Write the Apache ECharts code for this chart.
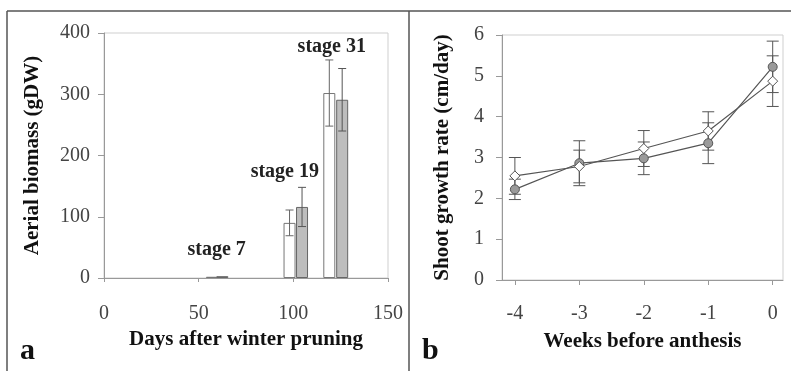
<!DOCTYPE html>
<html>
<head>
<meta charset="utf-8">
<script src="https://cdn.jsdelivr.net/npm/echarts@6/dist/echarts.min.js"></script>
<style>
html,body{margin:0;padding:0;background:#fff;}
#c{width:791px;height:371px;}
</style>
</head>
<body>
<div id="c"></div>
<script>
// Panel a: aerial biomass (bars)
var whiteDays = [57, 98, 119];
var whiteBiomass = [2, 90, 302];
var whiteBiomassErr = [0, 21, 54];
var grayDays = [62.5, 104.6, 125.8];
var grayBiomass = [3, 116, 291];
var grayBiomassErr = [0, 32, 51];
var stageNames = ['stage 7', 'stage 19', 'stage 31'];
var stageLabelX = [59.5, 95.5, 120.3];
var stageLabelY = [46, 173, 378];

// Panel b: shoot growth rate (lines)
var weeks = [-4, -3, -2, -1, 0];
var whiteRate = [2.55, 2.78, 3.22, 3.65, 4.87];
var whiteRateErr = [0.45, 0.4, 0.44, 0.47, 0.62];
var grayRate = [2.22, 2.86, 2.98, 3.35, 5.22];
var grayRateErr = [0.25, 0.55, 0.4, 0.5, 0.63];
var weekTicks = [-4, -3, -2, -1, 0];

var serif = '"Liberation Serif", "Times New Roman", serif';
var chart = echarts.init(document.getElementById('c'));

function zip2(a, b) { return a.map(function (v, i) { return [v, b[i]]; }); }
function zip3(a, b, c) { return a.map(function (v, i) { return [v, b[i], c[i]]; }); }

function errRender(half, color) {
  return function (params, api) {
    var x = api.value(0), y = api.value(1), e = api.value(2);
    if (!e) return;
    var top = api.coord([x, y + e]);
    var bot = api.coord([x, y - e]);
    var st = { stroke: color, lineWidth: 1 };
    return {
      type: 'group',
      children: [
        { type: 'line', shape: { x1: top[0], y1: top[1], x2: bot[0], y2: bot[1] }, style: st },
        { type: 'line', shape: { x1: top[0] - half, y1: top[1], x2: top[0] + half, y2: top[1] }, style: st },
        { type: 'line', shape: { x1: bot[0] - half, y1: bot[1], x2: bot[0] + half, y2: bot[1] }, style: st }
      ]
    };
  };
}

var tickLabel = { color: '#444', fontFamily: serif, fontSize: 20 };
var axisTitle = { color: '#111', fontFamily: serif, fontSize: 21, fontWeight: 'bold' };
var axisLineStyle = { lineStyle: { color: '#999', width: 1 } };

var option = {
  animation: false,
  backgroundColor: '#fff',
  grid: [
    { left: 104, top: 33, width: 284, height: 245, show: true, borderColor: '#cfcfcf', borderWidth: 1 },
    { left: 502, top: 35, width: 281, height: 245, show: true, borderColor: '#cfcfcf', borderWidth: 1 }
  ],
  xAxis: [
    {
      gridIndex: 0, type: 'value', min: 0, max: 150, interval: 50,
      name: 'Days after winter pruning', nameLocation: 'middle', nameGap: 48,
      nameTextStyle: axisTitle,
      axisLine: axisLineStyle,
      axisTick: { show: true, length: 4, lineStyle: { color: '#999' } },
      axisLabel: Object.assign({ margin: 26 }, tickLabel),
      splitLine: { show: false }
    },
    {
      gridIndex: 1, type: 'value', min: -4.2, max: 0.16,
      name: 'Weeks before anthesis', nameLocation: 'middle', nameGap: 51,
      nameTextStyle: axisTitle,
      axisLine: axisLineStyle,
      axisTick: { show: true, length: 5, lineStyle: { color: '#999' }, customValues: weekTicks },
      axisLabel: Object.assign({ margin: 24, customValues: weekTicks }, tickLabel),
      splitLine: { show: false }
    }
  ],
  yAxis: [
    {
      gridIndex: 0, type: 'value', min: 0, max: 400, interval: 100,
      name: 'Aerial biomass (gDW)', nameLocation: 'middle', nameGap: 61,
      nameTextStyle: axisTitle,
      axisLine: { show: true, onZero: false, lineStyle: { color: '#999', width: 1 } },
      axisTick: { show: true, length: 6, lineStyle: { color: '#999' } },
      axisLabel: Object.assign({ margin: 14 }, tickLabel),
      splitLine: { show: false }
    },
    {
      gridIndex: 1, type: 'value', min: 0, max: 6, interval: 1,
      name: 'Shoot growth rate (cm/day)', nameLocation: 'middle', nameGap: 49,
      nameTextStyle: axisTitle,
      axisLine: { show: true, onZero: false, lineStyle: { color: '#999', width: 1 } },
      axisTick: { show: true, length: 6, lineStyle: { color: '#999' } },
      axisLabel: Object.assign({ margin: 18 }, tickLabel),
      splitLine: { show: false }
    }
  ],
  series: [
    {
      type: 'bar', xAxisIndex: 0, yAxisIndex: 0, barWidth: 12, barGap: '-100%',
      data: zip2(whiteDays, whiteBiomass),
      itemStyle: { color: '#ffffff', borderColor: '#777', borderWidth: 1 },
      z: 2
    },
    {
      type: 'bar', xAxisIndex: 0, yAxisIndex: 0, barWidth: 12, barGap: '-100%',
      data: zip2(grayDays, grayBiomass),
      itemStyle: { color: '#bdbdbd', borderColor: '#666', borderWidth: 1 },
      z: 2
    },
    {
      type: 'custom', xAxisIndex: 0, yAxisIndex: 0, z: 5,
      data: zip3(whiteDays, whiteBiomass, whiteBiomassErr),
      renderItem: errRender(4, '#666')
    },
    {
      type: 'custom', xAxisIndex: 0, yAxisIndex: 0, z: 5,
      data: zip3(grayDays, grayBiomass, grayBiomassErr),
      renderItem: errRender(4, '#555')
    },
    {
      type: 'custom', xAxisIndex: 0, yAxisIndex: 0, z: 6,
      data: stageLabelX.map(function (x, i) { return [x, stageLabelY[i], stageNames[i]]; }),
      renderItem: function (params, api) {
        var p = api.coord([api.value(0), api.value(1)]);
        return {
          type: 'text',
          style: {
            x: p[0], y: p[1], text: stageNames[params.dataIndex],
            align: 'center', verticalAlign: 'middle',
            fill: '#222', font: 'bold 20px ' + serif
          }
        };
      }
    },
    {
      type: 'custom', xAxisIndex: 1, yAxisIndex: 1, z: 3,
      data: zip3(weeks, whiteRate, whiteRateErr),
      renderItem: errRender(6, '#555')
    },
    {
      type: 'custom', xAxisIndex: 1, yAxisIndex: 1, z: 3,
      data: zip3(weeks, grayRate, grayRateErr),
      renderItem: errRender(6, '#555')
    },
    {
      type: 'line', xAxisIndex: 1, yAxisIndex: 1, z: 4,
      data: zip2(weeks, grayRate),
      symbol: 'circle', symbolSize: 9,
      lineStyle: { color: '#555', width: 1.2 },
      itemStyle: { color: '#9a9a9a', borderColor: '#555', borderWidth: 1 }
    },
    {
      type: 'line', xAxisIndex: 1, yAxisIndex: 1, z: 4,
      data: zip2(weeks, whiteRate),
      symbol: 'diamond', symbolSize: 10,
      lineStyle: { color: '#555', width: 1.2 },
      itemStyle: { color: '#ffffff', borderColor: '#555', borderWidth: 1 }
    }
  ],
  graphic: [
    { type: 'line', shape: { x1: 7, y1: 11, x2: 791, y2: 11 }, style: { stroke: '#555', lineWidth: 1.5 } },
    { type: 'line', shape: { x1: 7, y1: 11, x2: 7, y2: 371 }, style: { stroke: '#555', lineWidth: 1.5 } },
    { type: 'line', shape: { x1: 409, y1: 11, x2: 409, y2: 371 }, style: { stroke: '#555', lineWidth: 1.5 } },
    { type: 'text', left: 20, top: 336, style: { text: 'a', font: 'bold 30px ' + serif, fill: '#111' } },
    { type: 'text', left: 422, top: 336, style: { text: 'b', font: 'bold 30px ' + serif, fill: '#111' } }
  ]
};
chart.setOption(option);
</script>
</body>
</html>
